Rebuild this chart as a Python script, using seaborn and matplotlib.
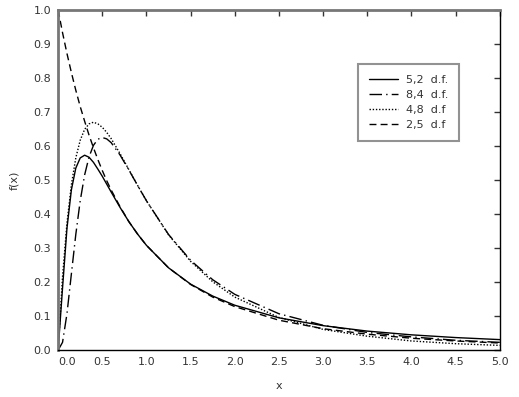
import numpy as np
import pandas as pd
import matplotlib
matplotlib.use("Agg")
import matplotlib.pyplot as plt
import matplotlib.transforms as mtransforms
import seaborn as sns

# values
x = [0.0, 0.05, 0.1, 0.15, 0.2, 0.25, 0.3, 0.35, 0.4, 0.45, 0.5, 0.55, 0.6, 0.7, 0.8,
     0.9, 1.0, 1.25, 1.5, 1.75, 2.0, 2.5, 3.0, 3.5, 4.0, 4.5, 5.0]
f_5_2 = [0.0, 0.183, 0.358, 0.471, 0.535, 0.565, 0.573, 0.567, 0.552, 0.532, 0.511, 0.488,
         0.465, 0.420, 0.378, 0.341, 0.308, 0.242, 0.194, 0.159, 0.132, 0.095, 0.072,
         0.056, 0.045, 0.037, 0.031]
f_8_4 = [0.0, 0.023, 0.107, 0.224, 0.340, 0.439, 0.515, 0.568, 0.602, 0.620, 0.625, 0.621,
         0.610, 0.574, 0.530, 0.484, 0.439, 0.340, 0.264, 0.207, 0.164, 0.107, 0.073,
         0.052, 0.039, 0.029, 0.023]
f_4_8 = [0.0, 0.216, 0.373, 0.486, 0.565, 0.617, 0.649, 0.665, 0.670, 0.665, 0.655, 0.640,
         0.622, 0.578, 0.531, 0.484, 0.439, 0.339, 0.261, 0.201, 0.156, 0.096, 0.061,
         0.041, 0.027, 0.019, 0.014]
f_2_5 = [1.0, 0.933, 0.872, 0.816, 0.764, 0.716, 0.673, 0.632, 0.595, 0.560, 0.528, 0.498,
         0.471, 0.422, 0.378, 0.341, 0.308, 0.242, 0.193, 0.156, 0.128, 0.088, 0.063,
         0.047, 0.035, 0.027, 0.021]
labels = ["5,2  d.f.", "8,4  d.f.", "4,8  d.f", "2,5  d.f"]
x_ticks = [0.0, 0.5, 1.0, 1.5, 2.0, 2.5, 3.0, 3.5, 4.0, 4.5, 5.0]
y_ticks = [0.0, 0.1, 0.2, 0.3, 0.4, 0.5, 0.6, 0.7, 0.8, 0.9, 1.0]

sns.set_style("white")
plt.rcParams['font.family'] = ['DejaVu Sans']

fig = plt.figure(figsize=(5.19, 3.97), dpi=100)
ax = fig.add_axes([0.112, 0.118, 0.851, 0.857])

styles = ["-", (0, (9, 3, 1, 3)), (0, (1, 1.3)), (0, (5, 3))]
for ys, lab, ls in zip([f_5_2, f_8_4, f_4_8, f_2_5], labels, styles):
    sns.lineplot(x=x, y=ys, ax=ax, color="black", linewidth=1.0,
                 linestyle=ls, label=lab)

ax.set_xlim(0, 5)
ax.set_ylim(0, 1)
ax.set_xticks(x_ticks)
ax.set_yticks(y_ticks)
ax.set_xticklabels([f"{t:.1f}" for t in x_ticks])
ax.set_yticklabels([f"{t:.1f}" for t in y_ticks])
ax.tick_params(direction="in", length=4, width=1, colors="#333333",
               labelsize=8, top=True, right=True, pad=5)

# nudge the 0.0 x label right, like the original
lab0 = ax.get_xticklabels()[0]
lab0.set_transform(lab0.get_transform() +
                   mtransforms.ScaledTranslation(9 / 100, 0, fig.dpi_scale_trans))

for side in ["left", "top"]:
    ax.spines[side].set_color("#777777")
    ax.spines[side].set_linewidth(2.0)
for side in ["right", "bottom"]:
    ax.spines[side].set_color("black")
    ax.spines[side].set_linewidth(1.0)

ax.set_xlabel("x", fontsize=8, color="#333333", labelpad=10)
ax.set_ylabel("f(x)", fontsize=8, color="#333333", labelpad=10)

leg = ax.legend(loc="upper left", bbox_to_anchor=(0.679, 0.841), fontsize=8,
                handlelength=2.6, frameon=True, fancybox=False, borderpad=1.0,
                labelspacing=0.45, handletextpad=0.7, borderaxespad=0)
leg.get_frame().set_edgecolor("#777777")
leg.get_frame().set_linewidth(1.5)
for t in leg.get_texts():
    t.set_color("#333333")

fig.savefig("out.png", dpi=100)
